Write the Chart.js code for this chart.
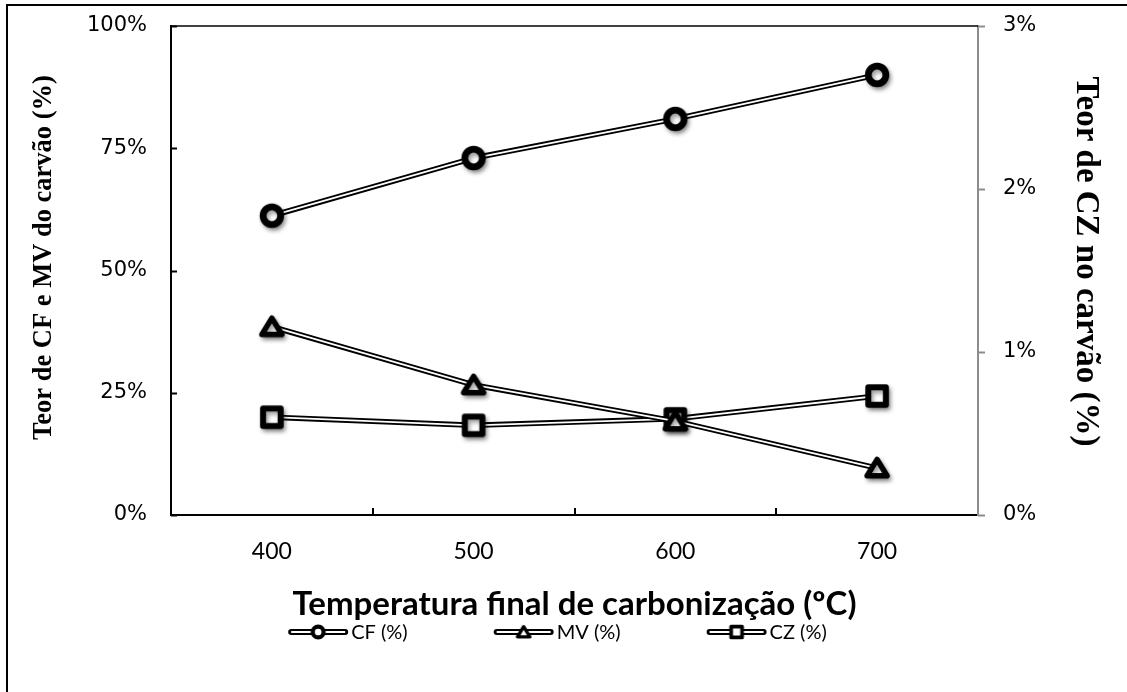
<!DOCTYPE html>
<html><head><meta charset="utf-8">
<script src="https://cdn.jsdelivr.net/npm/chart.js@4"></script>
<style>
html,body{margin:0;padding:0;background:#fff;}
#wrap{position:relative;width:1127px;height:692px;overflow:hidden;background:#fff;}
#frame{position:absolute;left:6px;top:4px;width:1300px;height:900px;border-left:2px solid #000;border-top:2px solid #000;}
#c{position:absolute;left:0;top:0;}
</style></head><body>
<div id="wrap"><div id="frame"></div><canvas id="c" width="1127" height="692"></canvas></div>
<script>
// ---- data ----
const categories = ['400', '500', '600', '700'];
const seriesLabels = ['CF (%)', 'MV (%)', 'CZ (%)'];
const cfValues = [61.2, 73.0, 81.0, 90.0];
const mvValues = [38.5, 26.6, 19.2, 9.6];
const czValues = [0.60, 0.55, 0.59, 0.73];
const leftTickValues = [0, 25, 50, 75, 100];
const rightTickValues = [0, 1, 2, 3];

// ---- marker images ----
function makeMarker(kind, s, shadow) {
  const size = Math.ceil(44 * s);
  const c = document.createElement('canvas');
  c.width = size; c.height = size;
  const g = c.getContext('2d');
  const cx = size / 2, cy = size / 2;
  g.lineJoin = 'round';
  g.lineCap = 'round';
  g.strokeStyle = '#000';
  g.fillStyle = '#fff';
  if (shadow) {
    g.shadowColor = 'rgba(0,0,0,0.38)';
    g.shadowBlur = 4 * s;
    g.shadowOffsetX = 2 * s;
    g.shadowOffsetY = 3 * s;
  }
  g.beginPath();
  if (kind === 'circle') {
    g.lineWidth = 6.8 * s;
    g.arc(cx, cy, 8.8 * s, 0, Math.PI * 2);
  } else if (kind === 'triangle') {
    g.lineWidth = 5.5 * s;
    g.moveTo(cx, cy - 8.6 * s);
    g.lineTo(cx + 10 * s, cy + 7.8 * s);
    g.lineTo(cx - 10 * s, cy + 7.8 * s);
    g.closePath();
  } else {
    g.lineWidth = 6 * s;
    g.rect(cx - 8.8 * s, cy - 8.8 * s, 17.6 * s, 17.6 * s);
  }
  g.fill();
  g.stroke();
  return c;
}
const markerKinds = ['circle', 'triangle', 'rect'];
const chartMarkers = markerKinds.map(k => makeMarker(k, 1, true));
const legendMarkers = markerKinds.map(k => makeMarker(k, 0.62, false));

function seriesDatasets(idx, data, axis) {
  const base = idx * 2;
  return [
    { label: seriesLabels[idx], data: data, yAxisID: axis, borderColor: '#000', borderWidth: 5.5,
      pointRadius: 0, fill: false, tension: 0, order: base + 1, borderCapStyle: 'round', borderJoinStyle: 'round' },
    { label: seriesLabels[idx], data: data, yAxisID: axis, borderColor: '#fff', borderWidth: 1.8,
      pointStyle: chartMarkers[idx], pointRadius: 12, fill: false, tension: 0, order: base, borderCapStyle: 'butt' }
  ];
}

const titleShift = { y: -13, y1: -9 };

const decorPlugin = {
  id: 'decor',
  afterLayout(chart) {
    Object.keys(titleShift).forEach(id => {
      const s = chart.scales[id];
      if (!s || s._titleWrapped) return;
      const orig = s.drawTitle.bind(s);
      const dy = titleShift[id];
      s.drawTitle = function () {
        this.top += dy; this.bottom += dy;
        try { orig(); } finally { this.top -= dy; this.bottom -= dy; }
      };
      s._titleWrapped = true;
    });
  },
  beforeDatasetsDraw(chart) {
    const ctx = chart.ctx, a = chart.chartArea;
    const x = chart.scales.x, y = chart.scales.y, y1 = chart.scales.y1;
    ctx.save();
    ctx.strokeStyle = '#000'; ctx.lineWidth = 1.5;
    ctx.beginPath(); ctx.moveTo(a.left, a.top); ctx.lineTo(a.right, a.top); ctx.stroke();
    ctx.lineWidth = 2;
    leftTickValues.forEach(v => {
      const py = Math.round(y.getPixelForValue(v)) + 0.5;
      ctx.beginPath(); ctx.moveTo(a.left, py); ctx.lineTo(a.left + 6, py); ctx.stroke();
    });
    for (let i = 0; i < categories.length - 1; i++) {
      const px = Math.round((x.getPixelForValue(i) + x.getPixelForValue(i + 1)) / 2);
      ctx.beginPath(); ctx.moveTo(px, a.bottom); ctx.lineTo(px, a.bottom - 7); ctx.stroke();
    }
    ctx.strokeStyle = '#8c8c8c';
    rightTickValues.forEach(v => {
      const py = Math.round(y1.getPixelForValue(v)) + 0.5;
      ctx.beginPath(); ctx.moveTo(a.right, py); ctx.lineTo(a.right + 7, py); ctx.stroke();
    });
    ctx.restore();
  },
  afterDraw(chart) {
    const ctx = chart.ctx;
    ctx.save();
    ctx.font = '20px Lato';
    ctx.textBaseline = 'middle';
    ctx.fillStyle = '#000';
    const iconW = 60, gap = 3, spacing = 86;
    const widths = seriesLabels.map(t => iconW + gap + ctx.measureText(t).width);
    const total = widths.reduce((s, w) => s + w, 0) + spacing * (seriesLabels.length - 1);
    let sx = chart.width / 2 - total / 2 - 6;
    const cy = 632;
    seriesLabels.forEach((t, i) => {
      ctx.lineCap = 'round';
      ctx.strokeStyle = '#000'; ctx.lineWidth = 6;
      ctx.beginPath(); ctx.moveTo(sx + 3, cy); ctx.lineTo(sx + iconW - 3, cy); ctx.stroke();
      ctx.lineCap = 'butt';
      ctx.strokeStyle = '#fff'; ctx.lineWidth = 2;
      ctx.beginPath(); ctx.moveTo(sx + 3, cy); ctx.lineTo(sx + iconW - 3, cy); ctx.stroke();
      const m = legendMarkers[i];
      ctx.drawImage(m, sx + iconW / 2 - m.width / 2, cy - m.height / 2);
      ctx.fillText(t, sx + iconW + gap, cy + 1);
      sx += widths[i] + spacing;
    });
    ctx.restore();
  }
};

const hiddenTickGrid = { display: true, drawOnChartArea: false, drawTicks: true, tickLength: 24, color: 'rgba(0,0,0,0)' };

new Chart(document.getElementById('c'), {
  type: 'line',
  data: {
    labels: categories,
    datasets: [
      ...seriesDatasets(0, cfValues, 'y'),
      ...seriesDatasets(1, mvValues, 'y'),
      ...seriesDatasets(2, czValues, 'y1')
    ]
  },
  options: {
    responsive: false,
    devicePixelRatio: 1,
    animation: false,
    events: [],
    layout: { padding: { top: 26, bottom: 67, left: 0, right: 0 } },
    plugins: { legend: { display: false }, tooltip: { enabled: false } },
    scales: {
      x: {
        type: 'category', offset: true,
        grid: { display: false, drawTicks: false },
        border: { display: true, color: '#000', width: 2 },
        ticks: { font: { family: 'Lato', size: 23 }, color: '#000', padding: 23 },
        title: { display: true, text: 'Temperatura final de carbonização (ºC)',
          font: { family: 'Lato', size: 33, weight: 'bold' }, color: '#000', padding: { top: 0, bottom: 1 } },
        afterFit(s) { s.height = 110; }
      },
      y: {
        position: 'left', min: 0, max: 100,
        afterBuildTicks(s) { s.ticks = leftTickValues.map(v => ({ value: v })); },
        ticks: { callback: v => v + '%', font: { family: 'DejaVu Sans', size: 21 }, color: '#000', padding: 0 },
        grid: hiddenTickGrid,
        border: { display: true, color: '#000', width: 2 },
        title: { display: true, text: 'Teor de CF e MV do carvão (%)',
          font: { family: 'Liberation Serif', size: 26.5, weight: 'bold' }, color: '#000', padding: { top: 28 } },
        afterFit(s) { s.width = 171; }
      },
      y1: {
        position: 'right', min: 0, max: 3,
        afterBuildTicks(s) { s.ticks = rightTickValues.map(v => ({ value: v })); },
        ticks: { callback: v => v + '%', font: { family: 'DejaVu Sans', size: 21 }, color: '#000', padding: 1 },
        grid: hiddenTickGrid,
        border: { display: true, color: '#8c8c8c', width: 2 },
        title: { display: true, text: 'Teor de CZ no carvão (%)',
          font: { family: 'Liberation Serif', size: 33, weight: 'bold' }, color: '#000', padding: { top: 22 } },
        afterFit(s) { s.width = 149; }
      }
    }
  },
  plugins: [decorPlugin]
});
</script>
</body></html>
